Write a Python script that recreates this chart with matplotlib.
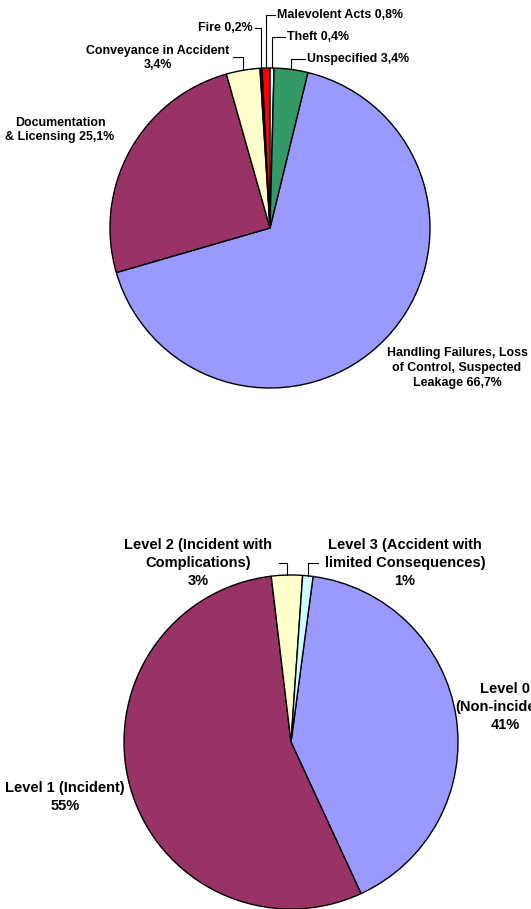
import numpy as np
import matplotlib.pyplot as plt
from matplotlib.lines import Line2D

W, H = 531, 909

# top pie: incident causes (data order as in the sheet)
cause_labels = ['Handling Failures, Loss\nof Control, Suspected\nLeakage 66,7%',
                'Documentation\n& Licensing 25,1%',
                'Conveyance in Accident\n3,4%',
                'Fire 0,2%',
                'Malevolent Acts 0,8%',
                'Theft 0,4%',
                'Unspecified 3,4%']
cause_values = [66.7, 25.1, 3.4, 0.2, 0.8, 0.4, 3.4]
cause_colors = ['#9999FF', '#993366', '#FFFFCC', '#660066', '#FF0000', '#CCFFFF', '#339966']

# bottom pie: INES levels
level_labels = ['Level 0\n(Non-incident)\n41%',
                'Level 1 (Incident)\n55%',
                'Level 2 (Incident with\nComplications)\n3%',
                'Level 3 (Accident with\nlimited Consequences)\n1%']
level_values = [41, 55, 3, 1]
level_colors = ['#9999FF', '#993366', '#FFFFCC', '#CCFFFF']


def fx(x):
    return x / W


def fy(y):
    return 1 - y / H


def drawPie(fig, cx, cy, r, values, colors, start_cw):
    ax = fig.add_axes([fx(cx - r), fy(cy + r), 2 * r / W, 2 * r / H])
    wedges, _ = ax.pie(values, colors=colors, startangle=90 - start_cw, counterclock=False,
                       wedgeprops=dict(edgecolor='black', linewidth=1.0))
    ax.set_xlim(-1, 1)
    ax.set_ylim(-1, 1)
    ax.axis('off')
    return wedges


def edgePoint(w, cx, cy, r):
    t = np.deg2rad((w.theta1 + w.theta2) / 2)
    return cx + r * np.cos(t), cy - r * np.sin(t)


def leader(fig, x0, y0, w, cx, cy, r):
    px, py = edgePoint(w, cx, cy, r)
    xs = [x0, px, px]
    ys = [y0, y0, py]
    fig.add_artist(Line2D([fx(x) for x in xs], [fy(y) for y in ys],
                          color='black', linewidth=0.8, transform=fig.transFigure))


def label(fig, x, y, s, ha, fs, ls):
    fig.text(fx(x), fy(y), s, ha=ha, va='center', fontsize=fs, fontweight='bold', linespacing=ls)


plt.rcParams['font.family'] = ['Liberation Sans', 'DejaVu Sans']
fig = plt.figure(figsize=(W / 100, H / 100), dpi=100)

# ---- top pie
tcx, tcy, tr = 270, 228, 160
tw = drawPie(fig, tcx, tcy, tr, cause_values, cause_colors, 13.7)
fs1, ls1 = 8.95, 1.3
label(fig, 457, 368, cause_labels[0], 'center', fs1, ls1)
label(fig, 60, 130, cause_labels[1], 'center', fs1, ls1)
label(fig, 158, 58, cause_labels[2], 'center', fs1, ls1)
label(fig, 253, 28, cause_labels[3], 'right', fs1, ls1)
label(fig, 277, 15, cause_labels[4], 'left', fs1, ls1)
label(fig, 287, 37, cause_labels[5], 'left', fs1, ls1)
label(fig, 307, 59, cause_labels[6], 'left', fs1, ls1)
leader(fig, 233, 57, tw[2], tcx, tcy, tr)
leader(fig, 255, 28, tw[3], tcx, tcy, tr)
leader(fig, 275, 15, tw[4], tcx, tcy, tr)
leader(fig, 285, 37, tw[5], tcx, tcy, tr)
leader(fig, 305, 59, tw[6], tcx, tcy, tr)

# ---- bottom pie
bcx, bcy, br = 291, 742, 167
bw = drawPie(fig, bcx, bcy, br, level_values, level_colors, 7.6)
fs2, ls2 = 10.5, 1.4
label(fig, 505, 707, level_labels[0], 'center', fs2, ls2)
label(fig, 65, 797, level_labels[1], 'center', fs2, ls2)
label(fig, 198, 563, level_labels[2], 'center', fs2, ls2)
label(fig, 405, 563, level_labels[3], 'center', fs2, ls2)
leader(fig, 279, 563, bw[2], bcx, bcy, br)
leader(fig, 318, 563, bw[3], bcx, bcy, br)

fig.savefig('out.png', dpi=100)
